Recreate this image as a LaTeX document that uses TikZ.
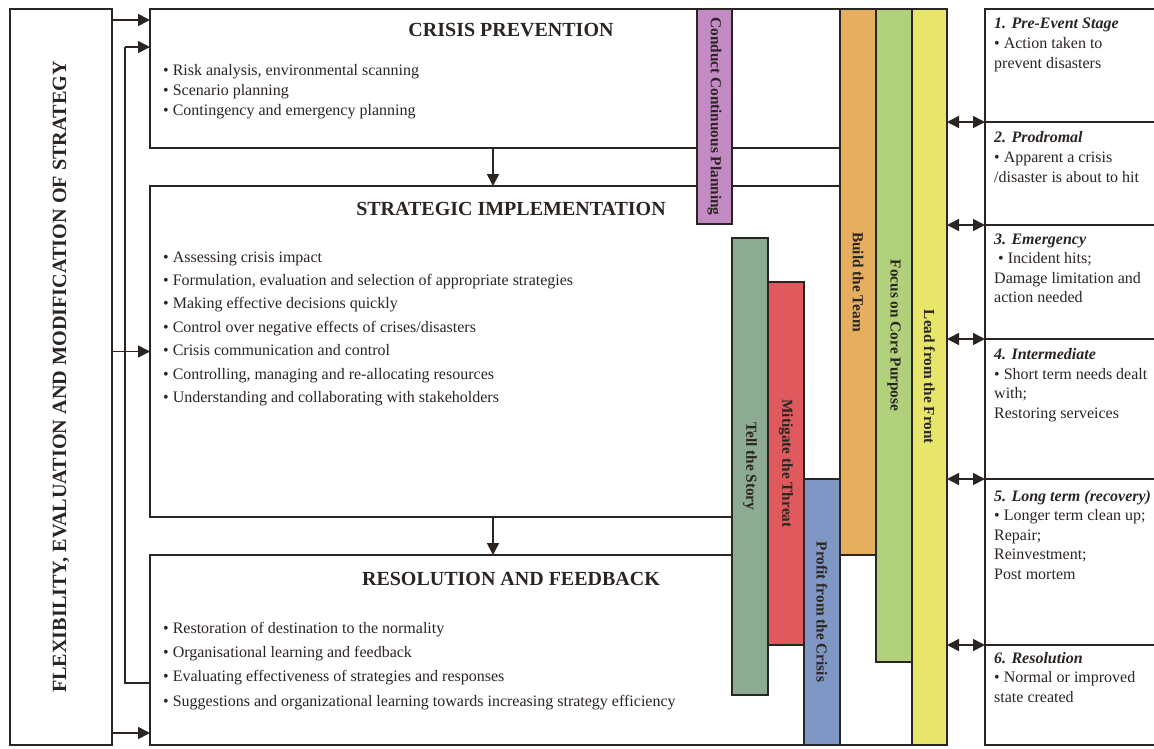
\documentclass[tikz,border=0pt]{standalone}
\usepackage{fontspec}
\setmainfont{Liberation Serif}
\usetikzlibrary{arrows.meta}
\definecolor{ln}{HTML}{2B2522}
\definecolor{cpurple}{HTML}{C28BC3}
\definecolor{ctell}{HTML}{8CAB92}
\definecolor{cmit}{HTML}{E05A5D}
\definecolor{cprof}{HTML}{7F97C5}
\definecolor{cbuild}{HTML}{E6AF60}
\definecolor{cfocus}{HTML}{B1D07B}
\definecolor{clead}{HTML}{E7E56A}
\tikzset{
  box/.style={draw=ln, line width=1.6pt, rectangle, inner sep=0pt, outer sep=0pt, anchor=north west, fill=white},
  bar/.style={draw=ln, line width=1.6pt, rectangle, inner sep=0pt, outer sep=0pt, anchor=north west},
  barlabel/.style={rotate=-90, font=\fontsize{15.3}{18}\selectfont\bfseries, text=ln, inner sep=0pt},
  title/.style={font=\fontsize{20}{23}\selectfont\bfseries, text=ln, inner sep=0pt, anchor=base},
  item/.style={font=\fontsize{16}{19}\selectfont, text=ln, inner sep=0pt, anchor=base west},
  stitle/.style={font=\fontsize{16}{19}\selectfont\bfseries\itshape, text=ln, inner sep=0pt, anchor=base west},
  conn/.style={draw=ln, line width=1.6pt},
  arr/.style={conn, -{Triangle[length=12pt,width=12pt]}},
  darr/.style={conn, {Triangle[length=12pt,width=12pt]}-{Triangle[length=12pt,width=12pt]}},
}
\begin{document}
\begin{tikzpicture}[x=1pt,y=-1pt]
\useasboundingbox (0,0) rectangle (1154,748);
\fill[white] (0,0) rectangle (1154,748);

% main boxes
\node[box, minimum width=102, minimum height=736] (left) at (10,9) {};
\node[box, minimum width=690, minimum height=139] (prev) at (150,9) {};
\node[box, minimum width=690, minimum height=331] (strat) at (150,186) {};
\node[box, minimum width=797, minimum height=190] (res) at (150,555) {};

% stage boxes
\node[box, minimum width=180, minimum height=113] (s1) at (985,9) {};
\node[box, minimum width=180, minimum height=103] (s2) at (985,122) {};
\node[box, minimum width=180, minimum height=114] (s3) at (985,225) {};
\node[box, minimum width=180, minimum height=140] (s4) at (985,339) {};
\node[box, minimum width=180, minimum height=166] (s5) at (985,479) {};
\node[box, minimum width=180, minimum height=100] (s6) at (985,645) {};

% bars
\node[bar, fill=cpurple, minimum width=35, minimum height=215] (ccp) at (697,9) {};
\node[bar, fill=ctell, minimum width=36, minimum height=457] (tell) at (732,238) {};
\node[bar, fill=cmit, minimum width=36, minimum height=363] (mit) at (768,282) {};
\node[bar, fill=cprof, minimum width=36, minimum height=266] (prof) at (804,479) {};
\node[bar, fill=cbuild, minimum width=36, minimum height=546] (build) at (840,9) {};
\node[bar, fill=cfocus, minimum width=36, minimum height=653] (focus) at (876,9) {};
\node[bar, fill=clead, minimum width=35, minimum height=736] (lead) at (912,9) {};

\node[barlabel] (lccp) at (ccp.center) {Conduct Continuous Planning};
\node[barlabel] (ltell) at (tell.center) {Tell the Story};
\node[barlabel] (lmit) at (mit.center) {Mitigate the Threat};
\node[barlabel] (lprof) at (prof.center) {Profit from the Crisis};
\node[barlabel] (lbuild) at (build.center) {Build the Team};
\node[barlabel] (lfocus) at (focus.center) {Focus on Core Purpose};
\node[barlabel] (llead) at (lead.center) {Lead from the Front};

% left label
\node[rotate=90, font=\fontsize{20.2}{24}\selectfont\bfseries, text=ln, inner sep=0pt] (lflex) at (left.center) {FLEXIBILITY, EVALUATION AND MODIFICATION OF STRATEGY};

% titles
\node[title] (tprev) at (511,36) {CRISIS PREVENTION};
\node[title] (tstrat) at (511,215) {STRATEGIC IMPLEMENTATION};
\node[title] (tres) at (511,585) {RESOLUTION AND FEEDBACK};

% prevention items
\node[item] (p1) at (163,75) {\textbullet{} Risk analysis, environmental scanning};
\node[item] (p2) at (163,95) {\textbullet{} Scenario planning};
\node[item] (p3) at (163,115) {\textbullet{} Contingency and emergency planning};

% strategic items
\node[item] (i1) at (163,262) {\textbullet{} Assessing crisis impact};
\node[item] (i2) at (163,285.4) {\textbullet{} Formulation, evaluation and selection of appropriate strategies};
\node[item] (i3) at (163,308.8) {\textbullet{} Making effective decisions quickly};
\node[item] (i4) at (163,332.2) {\textbullet{} Control over negative effects of crises/disasters};
\node[item] (i5) at (163,355.6) {\textbullet{} Crisis communication and control};
\node[item] (i6) at (163,379) {\textbullet{} Controlling, managing and re-allocating resources};
\node[item] (i7) at (163,402.4) {\textbullet{} Understanding and collaborating with stakeholders};

% resolution items
\node[item] (r1) at (163,633) {\textbullet{} Restoration of destination to the normality};
\node[item] (r2) at (163,657.3) {\textbullet{} Organisational learning and feedback};
\node[item] (r3) at (163,681.6) {\textbullet{} Evaluating effectiveness of strategies and responses};
\node[item] (r4) at (163,706) {\textbullet{} Suggestions and organizational learning towards increasing strategy efficiency};

% stage texts
\node[stitle] (t1) at (994,28) {1. Pre-Event Stage};
\node[item] (t1a) at (994,48) {\textbullet{} Action taken to};
\node[item] (t1b) at (994,68) {prevent disasters};

\node[stitle] (t2) at (994,142) {2. Prodromal};
\node[item] (t2a) at (994,162) {\textbullet{} Apparent a crisis};
\node[item] (t2b) at (994,182) {/disaster is about to hit};

\node[stitle] (t3) at (994,244) {3. Emergency};
\node[item] (t3a) at (998,263.5) {\textbullet{} Incident hits;};
\node[item] (t3b) at (994,283) {Damage limitation and};
\node[item] (t3c) at (994,302.5) {action needed};

\node[stitle] (t4) at (994,359.5) {4. Intermediate};
\node[item] (t4a) at (994,379) {\textbullet{} Short term needs dealt};
\node[item] (t4b) at (994,398.5) {with;};
\node[item] (t4c) at (994,418) {Restoring serveices};

\node[stitle] (t5) at (994,501) {5. Long term (recovery)};
\node[item] (t5a) at (994,520.5) {\textbullet{} Longer term clean up;};
\node[item] (t5b) at (994,540) {Repair;};
\node[item] (t5c) at (994,559.5) {Reinvestment;};
\node[item] (t5d) at (994,579) {Post mortem};

\node[stitle] (t6) at (994,663) {6. Resolution};
\node[item] (t6a) at (994,682.5) {\textbullet{} Normal or improved};
\node[item] (t6b) at (994,702) {state created};

% connectors on the left
\coordinate (v1) at (125,47);
\coordinate (v2) at (125,683);
\draw[arr] ([yshift=-11pt]left.north east) -- ([yshift=-11pt]prev.north west);
\draw[arr] (v1) -- (v1 -| prev.west);
\draw[conn] (v1) -- (v2) -- (v2 -| res.west);
\draw[arr] (left.east |- strat.west) -- (strat.west);
\draw[arr] ([yshift=12pt]left.south east) -- ([yshift=12pt]res.south west);

% down arrows
\draw[arr] ([xshift=-2pt]prev.south) -- ([xshift=-2pt]strat.north);
\draw[arr] ([xshift=-2pt]strat.south) -- ([xshift=-2pt]strat.south |- res.north);

% double arrows
\draw[darr] (lead.east |- s1.south west) -- (s1.south west);
\draw[darr] (lead.east |- s2.south west) -- (s2.south west);
\draw[darr] (lead.east |- s3.south west) -- (s3.south west);
\draw[darr] (lead.east |- s4.south west) -- (s4.south west);
\draw[darr] (lead.east |- s5.south west) -- (s5.south west);
\end{tikzpicture}
\end{document}
